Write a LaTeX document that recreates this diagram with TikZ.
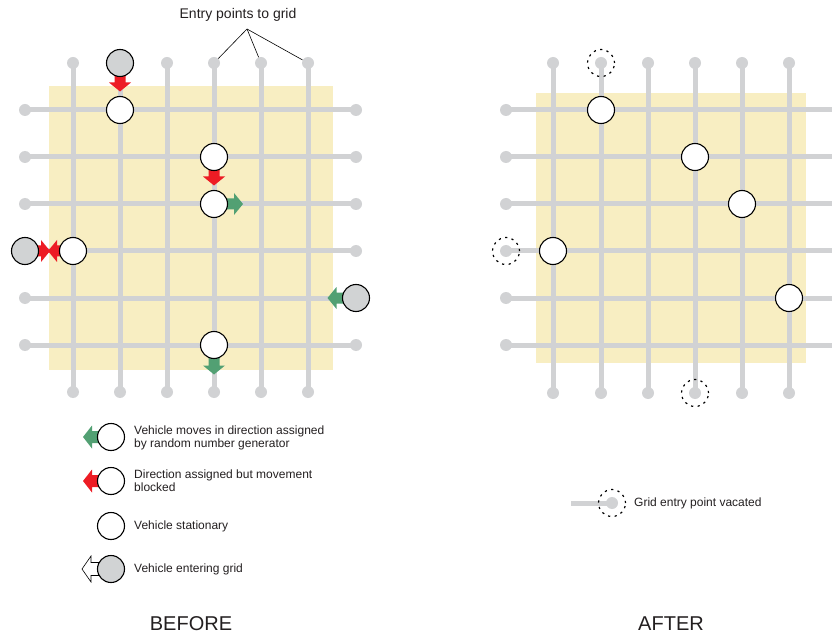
\documentclass[tikz,border=0pt]{standalone}
\usepackage{fontspec}
\setmainfont{Liberation Sans}
\usetikzlibrary{calc}
\definecolor{gridgray}{HTML}{D1D2D4}
\definecolor{vgray}{HTML}{D1D3D4}
\definecolor{pale}{HTML}{F8EEC2}
\definecolor{vred}{HTML}{ED1C24}
\definecolor{vgreen}{HTML}{52A073}
\definecolor{txt}{HTML}{231F20}
% #1 centre, #2 angle, #3 style, #4 tip distance, #5 head half width, #6 shaft half width
\newcommand\vehArrowG[6]{%
  \begin{scope}[shift={(#1)},rotate=#2]
    \path[#3] (0,-#6) -- (#4-9,-#6) -- (#4-9,-#5) -- (#4,0) -- (#4-9,#5) -- (#4-9,#6) -- (0,#6) -- cycle;
  \end{scope}}
\newcommand\vehArrow[4]{\vehArrowG{#1}{#2}{#3}{#4}{11}{5.5}}
\begin{document}
\begin{tikzpicture}[x=1pt,y=-1pt,
  gl/.style={draw=gridgray, line width=5pt},
  dot/.style={circle, fill=gridgray, inner sep=0pt, minimum size=12pt},
  veh/.style={circle, draw=black, line width=1.1pt, fill=white, inner sep=0pt, minimum size=27pt},
  ent/.style={veh, fill=vgray},
  vac/.style={circle, draw=black, line width=1.2pt, dash pattern=on 2.2pt off 4.4pt, inner sep=0pt, minimum size=27pt},
  lbl/.style={font=\fontsize{12}{13}\selectfont, text=txt, anchor=west, align=left, inner sep=0pt},
  ptr/.style={draw=black, line width=0.6pt},
  redA/.style={fill=vred},
  greenA/.style={fill=vgreen},
  whiteA/.style={fill=white, draw=black, line width=0.6pt}]
\useasboundingbox (0,0) rectangle (832,636);

% ---------------- BEFORE ----------------
\fill[pale] (49,86) rectangle (333,370);
\foreach \i/\x in {1/73,2/120,3/167,4/214,5/261,6/308}{
  \node[dot] (bt\i) at (\x,63) {};
  \node[dot] (bb\i) at (\x,392) {};
  \draw[gl] (bt\i.center) -- (bb\i.center);
}
\foreach \j/\y in {1/110,2/157,3/204,4/251,5/298,6/345}{
  \node[dot] (bl\j) at (25,\y) {};
  \node[dot] (br\j) at (356,\y) {};
  \draw[gl] (bl\j.center) -- (br\j.center);
}
\node[font=\fontsize{14}{16}\selectfont, text=txt] (title) at (238,15) {Entry points to grid};
\coordinate (conv) at (247,29);
\foreach \i in {4,5,6} \draw[ptr] (conv) -- (bt\i);

\coordinate (g1) at (120,63);
\coordinate (g2) at (25,251);
\coordinate (g3) at (356,298);
\coordinate (w1) at (120,110);
\coordinate (w2) at (214,157);
\coordinate (w3) at (214,204);
\coordinate (w4) at (73,251);
\coordinate (w5) at (214,345);

\vehArrow{g1}{-90}{redA}{28.5}
\vehArrow{w2}{-90}{redA}{28.5}
\vehArrow{w3}{0}{greenA}{29}
\vehArrow{g2}{0}{redA}{25}
\vehArrow{w4}{180}{redA}{25}
\vehArrow{g3}{180}{greenA}{28.5}
\vehArrow{w5}{-90}{greenA}{29.5}

\foreach \k in {1,2,3} \node[ent] (vg\k) at (g\k) {};
\foreach \k in {1,...,5} \node[veh] (vw\k) at (w\k) {};

% legend
\coordinate (l1) at (111,437);
\coordinate (l2) at (111,481);
\coordinate (l3) at (111,526);
\coordinate (l4) at (111,569);
\vehArrowG{l1}{180}{greenA}{28}{11.5}{6}
\vehArrowG{l2}{180}{redA}{28}{11.5}{6}
\vehArrowG{l4}{180}{whiteA}{29}{13}{6.5}
\node[veh] (lv1) at (l1) {};
\node[veh] (lv2) at (l2) {};
\node[veh] (lv3) at (l3) {};
\node[ent] (lv4) at (l4) {};
\node[lbl] (lt1) at (134,437.5) {Vehicle moves in direction assigned\\by random number generator};
\node[lbl] (lt2) at (134,481) {Direction assigned but movement\\blocked};
\node[lbl] (lt3) at (134,526) {Vehicle stationary};
\node[lbl] (lt4) at (134,569) {Vehicle entering grid};

\node[font=\fontsize{20}{22}\selectfont, text=txt] (before) at (191,624) {BEFORE};

% ---------------- AFTER ----------------
\fill[pale] (536,93) rectangle (806,363);
\foreach \i/\x in {1/553,2/601,3/648,4/695,5/742,6/789}{
  \node[dot] (at\i) at (\x,63) {};
  \node[dot] (ab\i) at (\x,393) {};
  \draw[gl] (at\i.center) -- (ab\i.center);
}
\foreach \j/\y in {1/110,2/157,3/204,4/251,5/298,6/345}{
  \node[dot] (al\j) at (506,\y) {};
  \coordinate (ar\j) at (832,\y);
  \draw[gl] (al\j.center) -- (ar\j);
}
\node[veh] (aw1) at (601,110) {};
\node[veh] (aw2) at (695,157) {};
\node[veh] (aw3) at (742,204) {};
\node[veh] (aw4) at (553,251) {};
\node[veh] (aw5) at (789,298) {};
\node[vac] (av1) at (601,63) {};
\node[vac] (av2) at (506,251) {};
\node[vac] (av3) at (695,393) {};

% legend
\coordinate (gs) at (571,503);
\node[dot] (gd) at (612,503) {};
\draw[gl] (gs) -- (gd.center);
\node[vac] (gv) at (gd) {};
\node[lbl] (gt) at (634,503) {Grid entry point vacated};

\node[font=\fontsize{20}{22}\selectfont, text=txt] (after) at (671,624) {AFTER};
\end{tikzpicture}
\end{document}
